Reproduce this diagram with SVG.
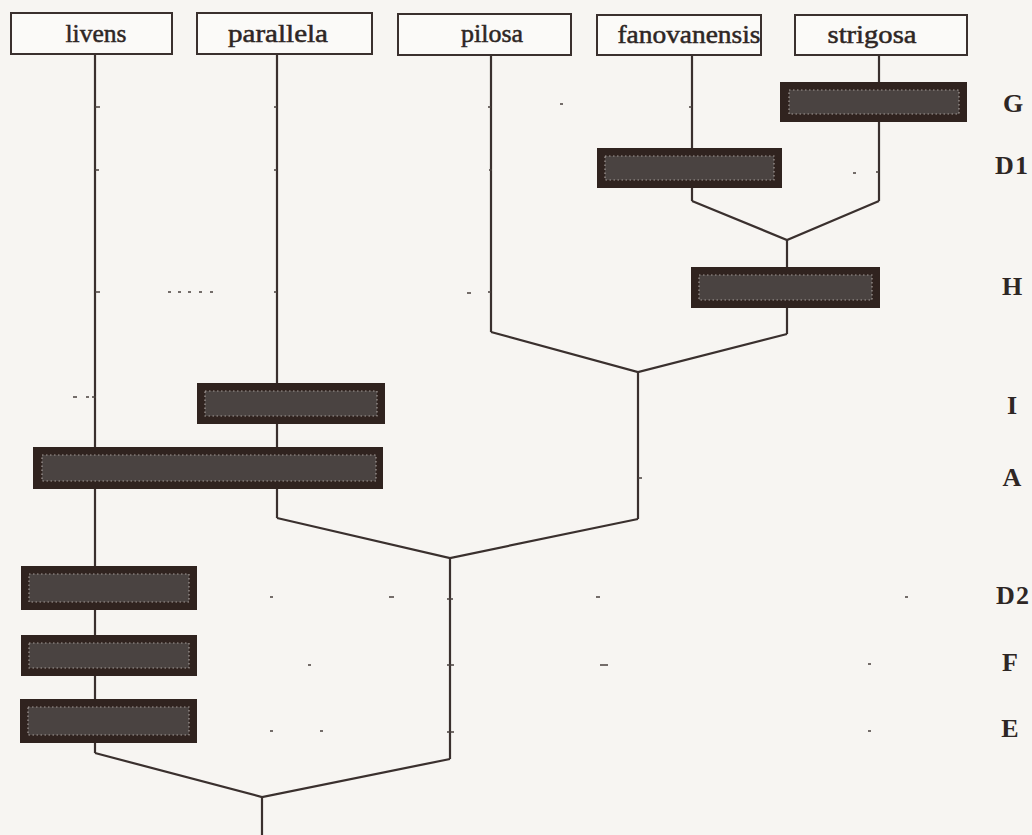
<svg xmlns="http://www.w3.org/2000/svg" width="1032" height="835" viewBox="0 0 1032 835">
<style>
.bg{fill:#f7f5f2}
.box{fill:#fbfaf8;stroke:#3a302e;stroke-width:2}
.name{font-family:"Liberation Serif","Times New Roman",serif;font-size:25px;fill:#2e2624;stroke:#2e2624;stroke-width:0.5;text-anchor:middle}
.lab{font-family:"Liberation Serif","Times New Roman",serif;font-size:26px;font-weight:bold;fill:#2e2624;text-anchor:middle}
.ln{fill:none;stroke:#3a302e;stroke-width:2.2;stroke-linejoin:miter}
.bar{fill:#30231f}
.inner{fill:#4a4341;stroke:#a49c98;stroke-width:1.2;stroke-dasharray:1.5 2.5}
.tick{stroke:#4a403e;stroke-width:1.5}
</style>
<rect class="bg" x="0" y="0" width="1032" height="835"/>

<g id="connectors">
<path class="ln" d="M95,54 V753"/>
<path class="ln" d="M277,54 V518"/>
<path class="ln" d="M491,54 V332"/>
<path class="ln" d="M692,55 V201"/>
<path class="ln" d="M879,54 V201"/>
<path class="ln" d="M692,201 L787,240 L879,201"/>
<path class="ln" d="M787,240 V334"/>
<path class="ln" d="M491,332 L638,372 L787,334"/>
<path class="ln" d="M638,372 V519"/>
<path class="ln" d="M277,518 L450,558 L638,519"/>
<path class="ln" d="M450,558 V759"/>
<path class="ln" d="M95,753 L262,797 L450,759"/>
<path class="ln" d="M262,797 V835"/>
</g>

<g id="ticks">
<path class="tick" d="M95,107 h5 M274,107 h3 M488,107 h3 M689,107 h3 M95,170 h4 M274,170 h3 M489,170 h3 M853,173 h3 M876,172 h3 M95,292 h5 M277,292 h-3 M488,292 h3 M467,293 h4 M168,292 h3 M178,292 h3 M188,292 h3 M199,292 h3 M210,292 h3 M73,397 h4 M86,397 h3 M92,397 h4 M638,478 h4 M447,599 h6 M447,665 h7 M447,732 h7 M270,597 h3 M389,597 h5 M308,665 h3 M270,731 h3 M320,731 h3 M596,597 h4 M600,665 h8 M560,104 h3 M868,731 h3 M868,664 h3 M905,597 h3"/>
</g>

<g id="node-livens"><rect class="box" x="11" y="13" width="161" height="41"/><text class="name" x="96" y="42" textLength="61" lengthAdjust="spacingAndGlyphs">livens</text></g>
<g id="node-parallela"><rect class="box" x="197" y="13" width="175" height="41"/><text class="name" x="278" y="42" textLength="100" lengthAdjust="spacingAndGlyphs">parallela</text></g>
<g id="node-pilosa"><rect class="box" x="398" y="14" width="173" height="41"/><text class="name" x="492" y="42" textLength="62" lengthAdjust="spacingAndGlyphs">pilosa</text></g>
<g id="node-fanovanensis"><rect class="box" x="597" y="15" width="164" height="40"/><text class="name" x="689" y="43" textLength="143" lengthAdjust="spacingAndGlyphs">fanovanensis</text></g>
<g id="node-strigosa"><rect class="box" x="795" y="15" width="172" height="40"/><text class="name" x="872" y="43" textLength="89" lengthAdjust="spacingAndGlyphs">strigosa</text></g>

<g id="bar-G"><rect class="bar" x="780" y="82" width="187" height="40"/><rect class="inner" x="789" y="90" width="170" height="24"/></g>
<g id="bar-D1"><rect class="bar" x="597" y="148" width="185" height="40"/><rect class="inner" x="605" y="156" width="169" height="24"/></g>
<g id="bar-H"><rect class="bar" x="691" y="267" width="189" height="41"/><rect class="inner" x="699" y="275" width="173" height="25"/></g>
<g id="bar-I"><rect class="bar" x="197" y="383" width="188" height="41"/><rect class="inner" x="205" y="391" width="172" height="25"/></g>
<g id="bar-A"><rect class="bar" x="33" y="447" width="350" height="42"/><rect class="inner" x="42" y="455" width="334" height="26"/></g>
<g id="bar-D2"><rect class="bar" x="21" y="566" width="176" height="44"/><rect class="inner" x="29" y="574" width="160" height="28"/></g>
<g id="bar-F"><rect class="bar" x="21" y="635" width="176" height="41"/><rect class="inner" x="29" y="643" width="160" height="25"/></g>
<g id="bar-E"><rect class="bar" x="20" y="699" width="177" height="44"/><rect class="inner" x="28" y="707" width="161" height="28"/></g>

<g id="labels">
<text class="lab" x="1013" y="112">G</text>
<text class="lab" x="1012" y="174" letter-spacing="1">D1</text>
<text class="lab" x="1012" y="295">H</text>
<text class="lab" x="1012" y="414">I</text>
<text class="lab" x="1012" y="486">A</text>
<text class="lab" x="1013" y="604" letter-spacing="1">D2</text>
<text class="lab" x="1010" y="671">F</text>
<text class="lab" x="1010" y="737">E</text>
</g>
</svg>
